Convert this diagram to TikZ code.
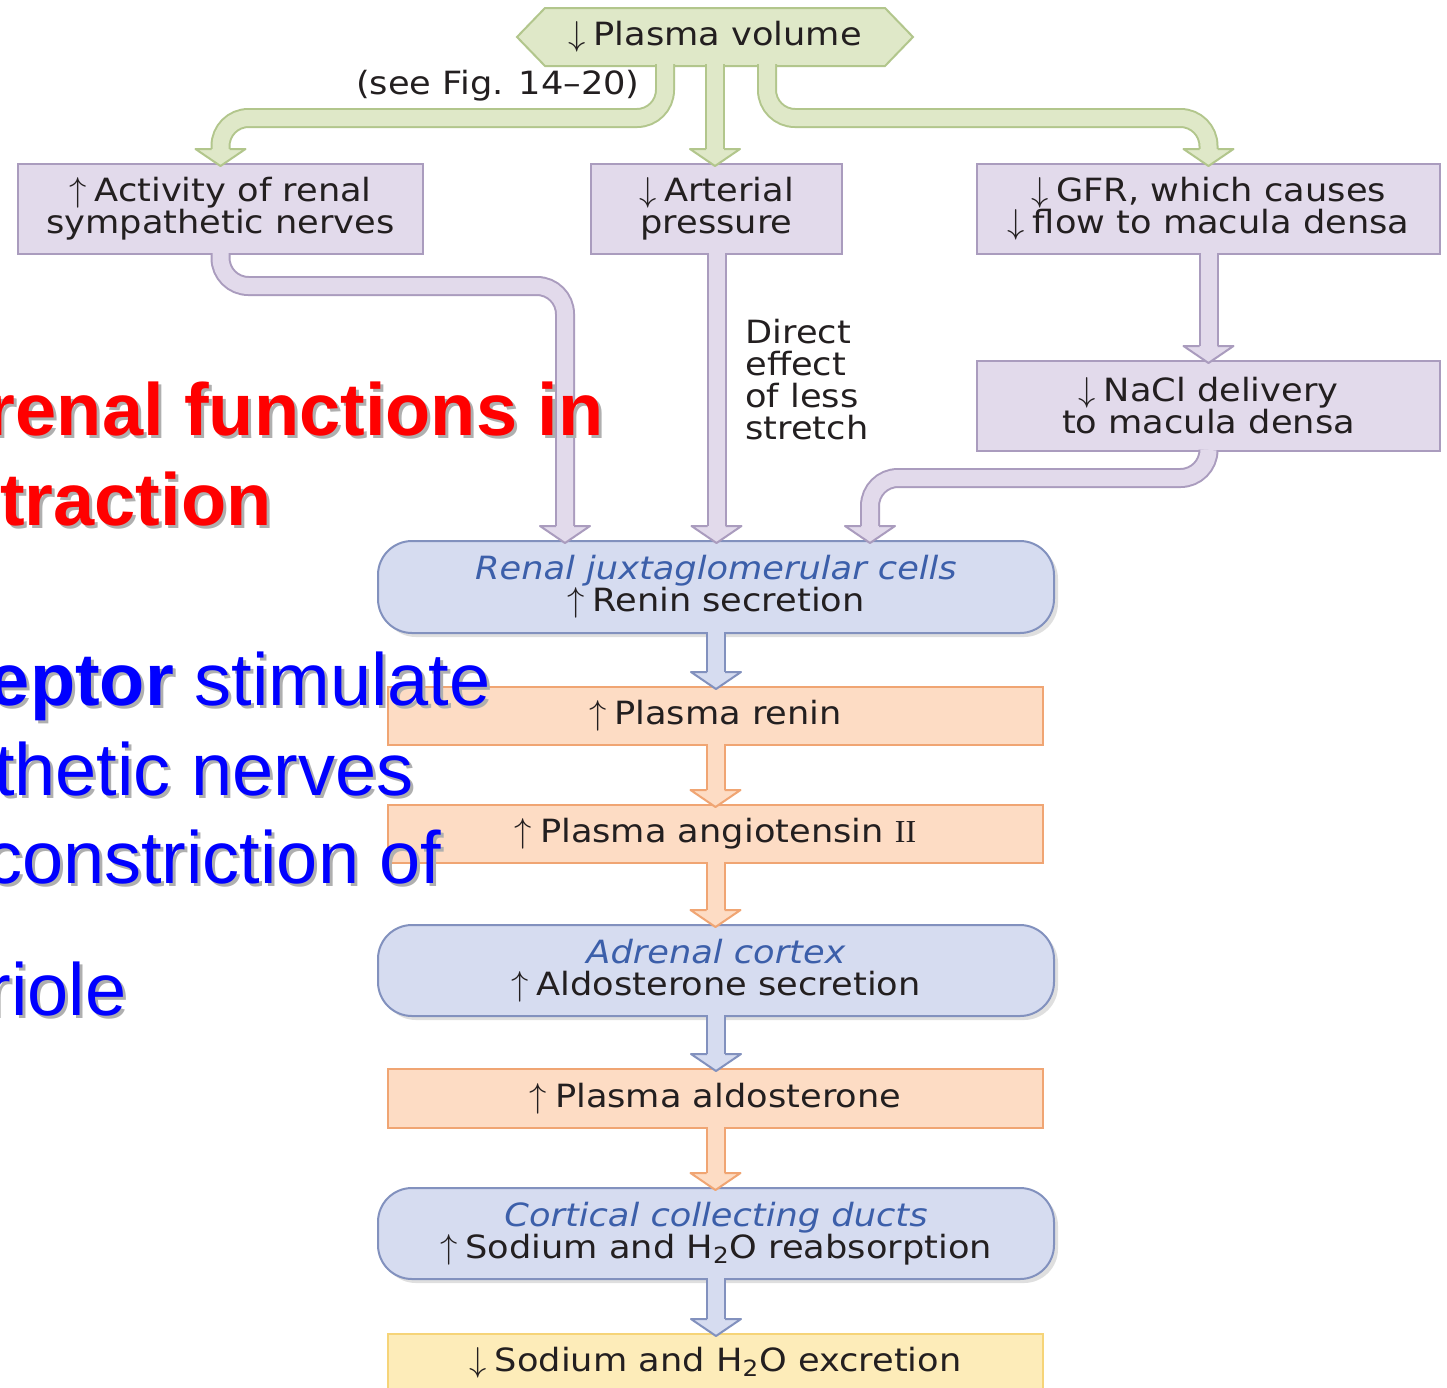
\documentclass[tikz,border=0pt]{standalone}
\usepackage{fontspec}
\setmainfont{DejaVu Sans}[FakeStretch=1.1]
\newfontfamily\slidefont{Liberation Sans}
\newfontfamily\romnum{Liberation Serif}
\usepackage{xcolor}
\definecolor{pfill}{RGB}{226, 218, 235}
\definecolor{pbord}{RGB}{170, 156, 190}
\definecolor{gfill}{RGB}{223, 232, 200}
\definecolor{gbord}{RGB}{178, 198, 140}
\definecolor{bfill}{RGB}{214, 220, 240}
\definecolor{bbord}{RGB}{130, 145, 190}
\definecolor{ofill}{RGB}{253, 220, 196}
\definecolor{obord}{RGB}{240, 165, 115}
\definecolor{yfill}{RGB}{253, 236, 185}
\definecolor{ybord}{RGB}{246, 212, 120}
\definecolor{itblue}{RGB}{60, 95, 170}
\definecolor{txtdark}{RGB}{35, 31, 32}
\definecolor{shadowgray}{RGB}{175, 175, 175}
\definecolor{slidered}{RGB}{255, 0, 0}
\definecolor{slideblue}{RGB}{0, 0, 255}
\usetikzlibrary{calc, shapes.symbols, shadows}

\newcommand{\upar}{$\uparrow$\hspace{4pt}}
\newcommand{\dnar}{$\downarrow$\hspace{4pt}}
\newcommand{\organ}[1]{{\color{itblue}\itshape #1}}

% texte de la diapositive, avec son ombre grise
\newcommand{\slideline}[5]{%
  \node[slidetext, text=shadowgray] (#1-sh) at ($(#2,#3)+(3,3)$) {#5};
  \node[slidetext, text=#4] (#1) at (#2,#3) {#5};
}

\tikzset{
  flowtext/.style={font=\fontsize{16}{16}\selectfont, text=txtdark,
    align=center, inner sep=0pt},
  pbox/.style={flowtext, draw=pbord, fill=pfill, line width=1pt},
  obox/.style={flowtext, draw=obord, fill=ofill, line width=1pt,
    minimum width=327.5pt, minimum height=29pt},
  bbox/.style={flowtext, draw=bbord, fill=bfill, line width=1pt,
    rounded corners=17pt, minimum width=338pt, minimum height=45.5pt,
    drop shadow={opacity=0.25, shadow xshift=2pt, shadow yshift=-2pt}},
  shaft/.style={draw=#1bord, double=#1fill, line width=1pt,
    double distance=8pt, rounded corners=14pt},
  pics/fathead/.style={code={
    \fill[#1fill] (-9,-17) -- (-25,-17) -- (0,0) -- (25,-17) -- (9,-17) -- cycle;
    \draw[#1bord, line width=1pt, line join=round]
      (-9,-17) -- (-25,-17) -- (0,0) -- (25,-17) -- (9,-17);
  }},
  slidetext/.style={font=\slidefont\fontsize{37}{37}\selectfont,
    inner sep=0pt, anchor=base east},
}

\begin{document}
\begin{tikzpicture}[x=0.5pt, y=-0.5pt]

\useasboundingbox (0,0) rectangle (1447,1388);
\fill[white] (0,0) rectangle (1447,1388);
\clip (0,0) rectangle (1447,1388);

% === Origine ===
\node[flowtext, shape=signal, signal to=west and east, signal pointer angle=92,
  draw=gbord, fill=gfill, line width=1pt, minimum width=198pt, minimum height=29pt]
  (vol) at (715,37) {\dnar Plasma volume};
\node[flowtext, anchor=east] (see) at (640,86) {(see Fig. 14–20)};

% === Premier niveau ===
\node[pbox, minimum width=202.5pt, minimum height=45pt] (act) at (220.5,209)
  {\upar Activity of renal\\sympathetic nerves};
\node[pbox, minimum width=125.5pt, minimum height=45pt] (art) at (716.5,209)
  {\dnar Arterial\\pressure};
\node[pbox, minimum width=231.5pt, minimum height=45pt] (gfr) at (1208.5,209)
  {\dnar GFR, which causes\\\dnar flow to macula densa};
\node[pbox, minimum width=231.5pt, minimum height=45pt] (nacl) at (1208.5,406)
  {\dnar NaCl delivery\\to macula densa};
\node[flowtext, align=left, anchor=north west] (stretch) at (745,319)
  {Direct\\effect\\of less\\stretch};

% === Chaine renine - aldosterone ===
\node[bbox, minimum height=46pt] (jg) at (716,587)
  {\organ{Renal juxtaglomerular cells}\\\upar Renin secretion};
\node[obox] (renin) at (715.5,716) {\upar Plasma renin};
\node[obox] (ang) at (715.5,834) {\upar Plasma angiotensin {\romnum II}};
\node[bbox] (adr) at (716,970.5)
  {\organ{Adrenal cortex}\\\upar Aldosterone secretion};
\node[obox, minimum height=29.5pt] (ald) at (715.5,1098.5) {\upar Plasma aldosterone};
\node[bbox] (ccd) at (716,1233.5)
  {\organ{Cortical collecting ducts}\\\upar Sodium and H\textsubscript{2}O reabsorption};
\node[flowtext, draw=ybord, fill=yfill, line width=1pt, minimum width=327.5pt,
  minimum height=29pt] (exc) at (715.5,1363)
  {\dnar Sodium and H\textsubscript{2}O excretion};

% === Fleches depuis le volume plasmatique ===
\draw[shaft=g] ($(vol.south)+(-50,-3)$) -- ++(0,54) -| ($(act.north)+(0,-12)$);
\pic at ($(act.north)+(0,3)$) {fathead=g};
\draw[shaft=g] ($(vol.south)+(0,-3)$) -- ($(vol.south |- art.north)+(0,-12)$);
\pic at ($(vol.south |- art.north)+(0,3)$) {fathead=g};
\draw[shaft=g] ($(vol.south)+(52,-3)$) -- ++(0,54) -| ($(gfr.north)+(0,-12)$);
\pic at ($(gfr.north)+(0,3)$) {fathead=g};

% === Vers les cellules juxtaglomerulaires ===
\draw[shaft=p] ($(act.south)+(0,-2)$) -- ++(0,33) -| ($(jg.north)+(-151,-12)$);
\pic at ($(jg.north)+(-151,3)$) {fathead=p};
\draw[shaft=p] ($(art.south)+(0,-2)$) -- ($(art.south |- jg.north)+(0,-12)$);
\pic at ($(art.south |- jg.north)+(0,3)$) {fathead=p};
\draw[shaft=p] ($(gfr.south)+(0,-2)$) -- ($(nacl.north)+(0,-12)$);
\pic at ($(nacl.north)+(0,3)$) {fathead=p};
\draw[shaft=p] ($(nacl.south)+(0,-2)$) -- ++(0,28) -| ($(jg.north)+(154,-12)$);
\pic at ($(jg.north)+(154,3)$) {fathead=p};

% === Cascade verticale ===
\foreach \a/\b/\col in {jg/renin/b, renin/ang/o, ang/adr/o, adr/ald/b, ald/ccd/o, ccd/exc/b} {
  \draw[shaft=\col] ($(\a.south)+(0,-2)$) -- ($(\a.south |- \b.north)+(0,-12)$);
  \pic at ($(\a.south |- \b.north)+(0,3)$) {fathead=\col};
}

% === Texte de la diapositive (par-dessus) ===
\slideline{red1}{604}{435}{slidered}{\bfseries renal functions in}
\slideline{red2}{272}{525}{slidered}{\bfseries traction}
\slideline{blue1}{491}{705}{slideblue}{\textbf{eptor} stimulate}
\slideline{blue2}{414}{795}{slideblue}{thetic nerves}
\slideline{blue3}{442}{883}{slideblue}{constriction of}
\slideline{blue4}{127}{1015}{slideblue}{riole}

\end{tikzpicture}
\end{document}
